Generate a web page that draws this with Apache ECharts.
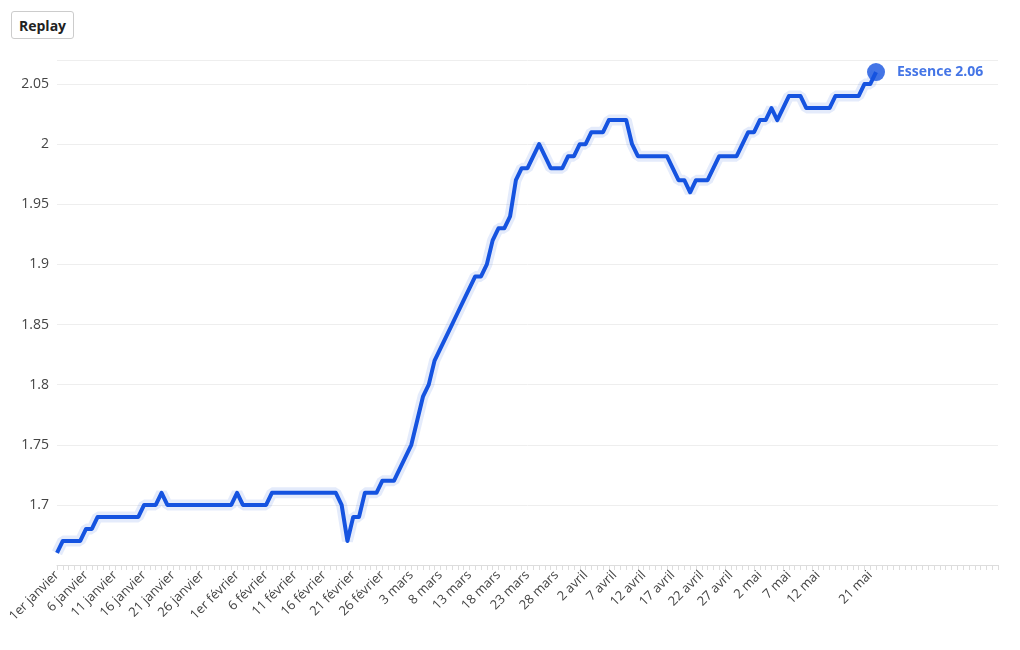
<!DOCTYPE html>
<html>
<head>
<meta charset="utf-8">
<script src="https://cdn.jsdelivr.net/npm/echarts@6/dist/echarts.min.js"></script>
<style>
body { margin: 0; background: #fff; font-family: "Open Sans", sans-serif; }
#replay { position: absolute; left: 11px; top: 11px; height: 28px; padding: 0 7px; background: #fff;
  border: 1px solid #ccc; border-radius: 3px; font: bold 14px "Open Sans", sans-serif; color: #222; }
#chart { width: 1020px; height: 650px; }
</style>
</head>
<body>
<button id="replay">Replay</button>
<div id="chart"></div>
<script>
var months = ['janvier', 'février', 'mars', 'avril', 'mai', 'juin'];
var monthDays = [31, 28, 31, 30, 31, 30];
// indices des jours avec étiquette (à partir du 1er janvier)
var labelDays = [0, 5, 10, 15, 20, 25, 31, 36, 41, 46, 51, 56, 61, 66, 71, 76, 81, 86, 91, 96, 101, 106, 111, 116, 121, 126, 131, 140];
// prix de l'essence par jour, 1er janvier -> 22 mai
var prices = [
  1.66, 1.67, 1.67, 1.67, 1.67, 1.68, 1.68, 1.69, 1.69, 1.69,
  1.69, 1.69, 1.69, 1.69, 1.69, 1.70, 1.70, 1.70, 1.71, 1.70,
  1.70, 1.70, 1.70, 1.70, 1.70, 1.70, 1.70, 1.70, 1.70, 1.70,
  1.70, 1.71, 1.70, 1.70, 1.70, 1.70, 1.70, 1.71, 1.71, 1.71,
  1.71, 1.71, 1.71, 1.71, 1.71, 1.71, 1.71, 1.71, 1.71, 1.70,
  1.67, 1.69, 1.69, 1.71, 1.71, 1.71, 1.72, 1.72, 1.72, 1.73,
  1.74, 1.75, 1.77, 1.79, 1.80, 1.82, 1.83, 1.84, 1.85, 1.86,
  1.87, 1.88, 1.89, 1.89, 1.90, 1.92, 1.93, 1.93, 1.94, 1.97,
  1.98, 1.98, 1.99, 2.00, 1.99, 1.98, 1.98, 1.98, 1.99, 1.99,
  2.00, 2.00, 2.01, 2.01, 2.01, 2.02, 2.02, 2.02, 2.02, 2.00,
  1.99, 1.99, 1.99, 1.99, 1.99, 1.99, 1.98, 1.97, 1.97, 1.96,
  1.97, 1.97, 1.97, 1.98, 1.99, 1.99, 1.99, 1.99, 2.00, 2.01,
  2.01, 2.02, 2.02, 2.03, 2.02, 2.03, 2.04, 2.04, 2.04, 2.03,
  2.03, 2.03, 2.03, 2.03, 2.04, 2.04, 2.04, 2.04, 2.04, 2.05,
  2.05, 2.06
];
var totalDays = 163;

var dates = [];
for (var m = 0; m < months.length && dates.length < totalDays; m++) {
  for (var d = 1; d <= monthDays[m] && dates.length < totalDays; d++) {
    dates.push((d === 1 ? '1er' : d) + ' ' + months[m]);
  }
}

var lastIdx = prices.length - 1;
var lastPoint = [];
for (var i = 0; i < prices.length; i++) lastPoint.push(i === lastIdx ? prices[i] : null);

var chart = echarts.init(document.getElementById('chart'));
chart.setOption({
  animation: false,
  grid: { left: 57, right: 22, top: 60, bottom: 85 },
  xAxis: {
    type: 'category',
    data: dates,
    boundaryGap: false,
    axisLine: { lineStyle: { color: '#ddd' } },
    axisTick: { interval: 0, length: 5, lineStyle: { color: '#ddd' } },
    axisLabel: {
      interval: function (idx) { return labelDays.indexOf(idx) >= 0; },
      rotate: 45, color: '#444', fontSize: 13, fontFamily: 'Open Sans', margin: 8
    }
  },
  yAxis: {
    type: 'value',
    min: 1.65, max: 2.07, interval: 0.05,
    axisLine: { show: false },
    axisTick: { show: false },
    splitLine: { lineStyle: { color: '#eee' } },
    axisLabel: {
      color: '#444', fontSize: 14, fontFamily: 'Open Sans', margin: 8,
      formatter: function (v) {
        if (v < 1.68 || v > 2.06) return '';
        return String(+v.toFixed(2));
      }
    }
  },
  series: [
    {
      type: 'line', data: prices, symbol: 'none', silent: true,
      lineStyle: { width: 11, color: 'rgba(30,90,225,0.12)' }
    },
    {
      type: 'line', data: prices, symbol: 'none',
      lineStyle: { width: 4, color: '#1553e0', join: 'round' }
    },
    {
      type: 'scatter', data: lastPoint, symbolSize: 18,
      itemStyle: { color: '#1553e0' },
      label: {
        show: true, position: 'right', distance: 12,
        formatter: 'Essence {c}', color: '#1553e0',
        fontWeight: 'bold', fontSize: 14, fontFamily: 'Open Sans'
      }
    }
  ]
});
</script>
</body>
</html>
